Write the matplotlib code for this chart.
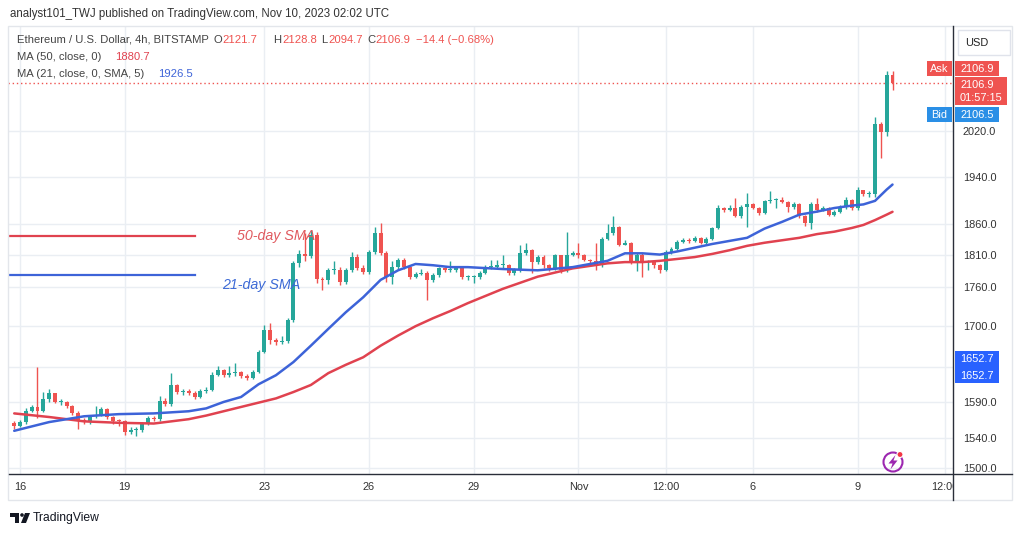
import matplotlib
matplotlib.use("Agg")
import matplotlib.pyplot as plt
from matplotlib.patches import Rectangle, Circle, Polygon
from matplotlib.ticker import NullLocator
import numpy as np

# ETH/USD 4h candles, Oct 15 20:00 -> Nov 10 00:00, one row per day
closes = [
    1557,
    1562, 1578, 1583, 1578, 1594, 1602,    # Oct 16
    1590, 1590, 1584, 1575, 1564, 1563,    # Oct 17
    1570, 1572, 1580, 1569, 1564, 1563,    # Oct 18
    1549, 1551, 1551, 1560, 1567, 1566,    # Oct 19
    1592, 1587, 1614, 1604, 1606, 1603,    # Oct 20
    1597, 1606, 1607, 1629, 1635, 1628,    # Oct 21
    1631, 1632, 1627, 1624, 1633, 1662,    # Oct 22
    1694, 1679, 1676, 1678, 1709, 1797,    # Oct 23
    1812, 1808, 1843, 1772, 1770, 1786,    # Oct 24
    1786, 1767, 1786, 1807, 1790, 1783,    # Oct 25
    1815, 1846, 1813, 1776, 1791, 1803,    # Oct 26
    1791, 1776, 1780, 1782, 1771, 1778,    # Oct 27
    1789, 1786, 1787, 1789, 1776, 1776,    # Oct 28
    1776, 1782, 1791, 1791, 1794, 1794,    # Oct 29
    1782, 1786, 1813, 1818, 1799, 1807,    # Oct 30
    1794, 1789, 1810, 1786, 1810, 1813,    # Oct 31
    1810, 1803, 1800, 1794, 1836, 1846,    # Nov 1
    1856, 1827, 1830, 1799, 1811, 1799,    # Nov 2
    1800, 1794, 1787, 1815, 1820, 1832,    # Nov 3
    1834, 1833, 1838, 1830, 1836, 1854,    # Nov 4
    1887, 1884, 1887, 1874, 1889, 1894,    # Nov 5
    1887, 1879, 1898, 1900, 1900, 1897,    # Nov 6
    1889, 1894, 1874, 1862, 1894, 1884,    # Nov 7
    1887, 1876, 1881, 1889, 1900, 1887,    # Nov 8
    1917, 1910, 1910, 2033, 2018, 2121.7,  # Nov 9
    2106.9,                                # Nov 10
]
highs = [
    1563,
    1565, 1582, 1586, 1640, 1604, 1608,
    1603, 1594, 1592, 1586, 1577, 1567,
    1572, 1584, 1583, 1581, 1570, 1566,
    1565, 1555, 1555, 1562, 1570, 1570,
    1598, 1595, 1631, 1616, 1609, 1608,
    1605, 1608, 1611, 1632, 1642, 1637,
    1642, 1646, 1634, 1630, 1636, 1665,
    1702, 1705, 1683, 1686, 1712, 1800,
    1818, 1846, 1850, 1848, 1776, 1790,
    1800, 1792, 1790, 1815, 1812, 1795,
    1818, 1855, 1862, 1816, 1800, 1806,
    1806, 1793, 1784, 1788, 1785, 1781,
    1791, 1791, 1800, 1792, 1790, 1779,
    1779, 1785, 1794, 1802, 1802, 1810,
    1796, 1789, 1826, 1830, 1820, 1810,
    1810, 1796, 1812, 1810, 1847, 1816,
    1830, 1812, 1804, 1830, 1839, 1860,
    1874, 1858, 1834, 1832, 1814, 1813,
    1803, 1802, 1796, 1818, 1823, 1835,
    1838, 1838, 1841, 1840, 1839, 1856,
    1892, 1889, 1892, 1903, 1892, 1912,
    1896, 1889, 1900, 1915, 1904, 1905,
    1899, 1897, 1896, 1876, 1897, 1904,
    1891, 1889, 1884, 1892, 1905, 1902,
    1922, 1918, 1915, 2045, 2036, 2128.8,
    2128.8,
]
lows = [
    1553,
    1555, 1560, 1576, 1567, 1576, 1590,
    1588, 1586, 1582, 1572, 1553, 1559,
    1560, 1568, 1570, 1566, 1560, 1557,
    1544, 1546, 1543, 1549, 1558, 1563,
    1564, 1584, 1585, 1601, 1600, 1600,
    1594, 1595, 1603, 1605, 1627, 1625,
    1626, 1627, 1624, 1621, 1622, 1631,
    1660, 1674, 1672, 1674, 1675, 1706,
    1792, 1800, 1806, 1766, 1755, 1765,
    1780, 1763, 1764, 1783, 1787, 1780,
    1780, 1812, 1810, 1768, 1764, 1788,
    1788, 1772, 1774, 1778, 1740, 1768,
    1776, 1783, 1783, 1784, 1772, 1770,
    1766, 1773, 1780, 1788, 1789, 1790,
    1779, 1778, 1783, 1810, 1782, 1796,
    1790, 1785, 1787, 1782, 1784, 1808,
    1806, 1800, 1797, 1786, 1792, 1834,
    1843, 1825, 1826, 1796, 1785, 1776,
    1786, 1790, 1782, 1785, 1812, 1818,
    1830, 1830, 1831, 1828, 1828, 1834,
    1852, 1880, 1882, 1872, 1871, 1855,
    1885, 1876, 1877, 1896, 1887, 1895,
    1881, 1886, 1870, 1858, 1852, 1881,
    1882, 1874, 1874, 1878, 1886, 1884,
    1883, 1907, 1906, 1905, 1973, 2010,
    2094.7,
]
first_open = 1561

# moving averages at these candle indices
ma_idx = [0, 6, 12, 18, 24, 30, 33, 36, 39, 42, 45, 48, 51, 54, 57, 60, 63, 66,
          69, 72, 75, 78, 84, 90, 96, 102, 105, 108, 111, 114, 117, 120, 123,
          126, 129, 132, 135, 138, 141, 144, 146, 148, 150, 151]
ma50 = [1574, 1569, 1563, 1561, 1560, 1566, 1571, 1577, 1583, 1589, 1595, 1604,
        1614, 1631, 1643, 1654, 1671, 1686, 1700, 1712, 1723, 1735, 1757, 1776,
        1789, 1797, 1799, 1799, 1801, 1804, 1807, 1812, 1818, 1825, 1830, 1834,
        1838, 1844, 1848, 1854, 1859, 1867, 1876, 1880.7]
ma21 = [1550, 1562, 1570, 1573, 1574, 1577, 1581, 1590, 1597, 1615, 1628, 1647,
        1671, 1696, 1721, 1744, 1771, 1786, 1796, 1794, 1791, 1791, 1788, 1786,
        1791, 1801, 1813, 1813, 1811, 1816, 1822, 1828, 1833, 1838, 1853, 1864,
        1876, 1881, 1887, 1891, 1893, 1899, 1918, 1926.5]

price_ticks = [1500, 1540, 1590, 1640, 1700, 1760, 1810, 1860, 1940, 2020]
x_tick_pos = [1, 19, 43, 61, 79, 97, 112, 127, 145, 160]
x_tick_lab = ['16', '19', '23', '26', '29', 'Nov', '12:00', '6', '9', '12:00']

GREEN = '#26a69a'
RED = '#ef5350'
MA_RED = '#e0424f'
MA_BLUE = '#3d63d8'
GRID = '#eaeef3'
TXT = '#333333'
FONT = 'Liberation Sans'

W, H = 1024, 535
L, R, T, B = 8, 953, 26, 474
fig = plt.figure(figsize=(W / 100, H / 100), dpi=100, facecolor='white')
ax = fig.add_axes([L / W, 1 - B / H, (R - L) / W, (B - T) / H])
ax.set_yscale('log')
ax.set_xlim(-1.07, 161.4)
ax.set_ylim(1492, 2216)
for s in ax.spines.values():
    s.set_visible(False)

for p in price_ticks:
    ax.axhline(p, color=GRID, lw=1, zorder=0)
for xi in x_tick_pos:
    ax.axvline(xi, color=GRID, lw=1, zorder=0)

c = np.array(closes, dtype=float)
o = np.array([first_open] + closes[:-1], dtype=float)
x = np.arange(len(c))
col = np.where(c >= o, GREEN, RED)
ax.vlines(x, lows, highs, colors=col, lw=1, zorder=3)
ax.bar(x, np.maximum(np.abs(c - o), 1.5), bottom=np.minimum(o, c), width=0.68,
       color=col, linewidth=0, zorder=4)

ax.plot(ma_idx, ma50, color=MA_RED, lw=1.8, zorder=5, solid_capstyle='round',
        solid_joinstyle='round')
ax.plot(ma_idx, ma21, color=MA_BLUE, lw=1.8, zorder=5, solid_capstyle='round',
        solid_joinstyle='round')

# last price line
ax.axhline(2106.9, color=RED, lw=1, ls=(0, (1, 2)), zorder=2)

# drawn legend lines + labels
ax.plot([-0.7, 31.1], [1841, 1841], color=MA_RED, lw=1.6, zorder=5)
ax.plot([-0.7, 31.1], [1779, 1779], color=MA_BLUE, lw=1.6, zorder=5)
ax.text(38.3, 1841, '50-day SMA', color='#e05a5f', fontsize=10.3, style='italic',
        family=FONT, va='center', ha='left', zorder=6)
ax.text(35.8, 1763, '21-day SMA', color='#3d6ad6', fontsize=10.3, style='italic',
        family=FONT, va='center', ha='left', zorder=6)

ax.yaxis.tick_right()
ax.yaxis.set_minor_locator(NullLocator())
ax.set_yticks(price_ticks)
ax.set_yticklabels([f'{p:.1f}' for p in price_ticks], family=FONT)
ax.tick_params(axis='y', length=0, pad=7, labelsize=7.9, labelcolor=TXT)
ax.tick_params(axis='x', bottom=False, labelbottom=False)

# date labels, clipped at the price scale
axs = fig.add_axes([L / W, 1 - 500 / H, (R - L) / W, 26 / H])
axs.set_xlim(ax.get_xlim())
axs.set_ylim(0, 1)
axs.axis('off')
for xi, lab in zip(x_tick_pos, x_tick_lab):
    axs.text(xi, 0.5, lab, ha='center', va='center', fontsize=7.9, color=TXT,
             family=FONT, clip_on=True)

# overlay in pixel coordinates
ov = fig.add_axes([0, 0, 1, 1], zorder=10)
ov.set_xlim(0, W)
ov.set_ylim(H, 0)
ov.axis('off')
ov.patch.set_alpha(0)

ov.add_patch(Rectangle((8, 26), 1004, 474, fill=False, edgecolor='#e3e6eb', lw=1))
ov.plot([953, 953], [26, 500], color='#2a2e39', lw=1)
ov.plot([9, 1012], [474, 474], color='#2a2e39', lw=1)

ov.text(10, 14, 'analyst101_TWJ published on TradingView.com, Nov 10, 2023 02:02 UTC',
        fontsize=8.3, color=TXT, family=FONT, va='center')

hdr = 8.1
ov.text(17, 40, 'Ethereum / U.S. Dollar, 4h, BITSTAMP', fontsize=hdr, color='#444',
        family=FONT, va='center')
for lx, s, cc in [(213, 'O', '#444'), (222, '2121.7', RED), (273, 'H', '#444'),
                  (282, '2128.8', RED), (321, 'L', '#444'), (328, '2094.7', RED),
                  (367, 'C', '#444'), (375, '2106.9', RED), (416, '\u221214.4 (\u22120.68%)', RED)]:
    ov.text(lx, 40, s, fontsize=hdr, color=cc, family=FONT, va='center')
ov.text(17, 57, 'MA (50, close, 0)', fontsize=hdr, color='#444', family=FONT, va='center')
ov.text(115, 57, '1880.7', fontsize=hdr, color=MA_RED, family=FONT, va='center')
ov.text(17, 74, 'MA (21, close, 0, SMA, 5)', fontsize=hdr, color='#444', family=FONT, va='center')
ov.text(158, 74, '1926.5', fontsize=hdr, color=MA_BLUE, family=FONT, va='center')

# price scale boxes
ov.add_patch(Rectangle((958, 30), 52, 25, facecolor='white', edgecolor='#e0e3eb', lw=1))
ov.text(977, 42.5, 'USD', fontsize=7.9, color='#222', family=FONT, ha='center', va='center')


def box(x0, y0, w, h, fc):
    ov.add_patch(Rectangle((x0, y0), w, h, facecolor=fc, edgecolor='none'))


box(927, 61, 25, 15, '#ef5350')
box(955, 61, 44, 15, '#ef5350')
box(955, 77, 52, 28, '#ef5350')
box(927, 107, 25, 15, '#2a8fe6')
box(955, 107, 44, 15, '#2a8fe6')
box(955, 351, 44, 32, '#2962ff')
for tx, ty, s in [(939.5, 68.5, 'Ask'), (977, 68.5, '2106.9'), (977, 85, '2106.9'),
                  (981, 98, '01:57:15'), (939.5, 114.5, 'Bid'), (977, 114.5, '2106.5'),
                  (977, 359, '1652.7'), (977, 376, '1652.7')]:
    ov.text(tx, ty, s, fontsize=7.9, color='white', family=FONT, ha='center', va='center')

# replay / lightning icon
ov.add_patch(Circle((893, 462), 9.5, fill=False, edgecolor='#9c27b0', lw=1.5))
ov.add_patch(Polygon([(895.5, 455), (888.5, 463.5), (892.5, 463.5), (890.5, 469.5),
                      (897.5, 460.5), (893.5, 460.5)], closed=True, facecolor='#9c27b0',
                     edgecolor='none'))
ov.add_patch(Circle((900, 454.5), 3, facecolor='#f23645', edgecolor='white', lw=0.8))

# TradingView logo
ov.add_patch(Rectangle((10, 513), 9, 3.5, facecolor='#131722', edgecolor='none'))
ov.add_patch(Rectangle((14.5, 513), 4.5, 10, facecolor='#131722', edgecolor='none'))
ov.add_patch(Circle((22, 515), 1.8, facecolor='#131722', edgecolor='none'))
ov.add_patch(Polygon([(25, 513), (30, 513), (26, 523), (21, 523)], closed=True,
                     facecolor='#131722', edgecolor='none'))
ov.text(33, 518, 'TradingView', fontsize=8.7, color='#131722', family=FONT, va='center')

fig.savefig('out.png', dpi=100, facecolor='white')
